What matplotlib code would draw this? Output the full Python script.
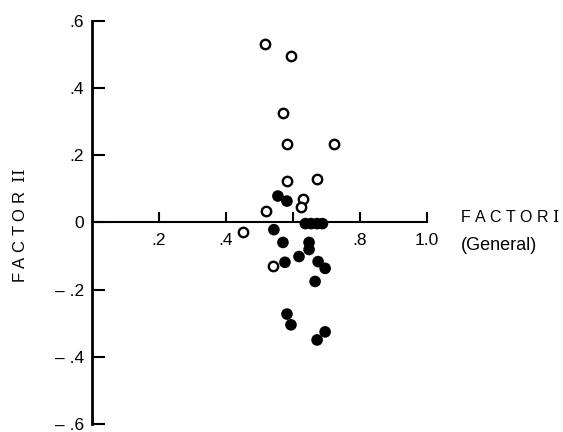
import matplotlib
matplotlib.use('Agg')
import matplotlib.pyplot as plt

plt.rcParams['font.family'] = ['Liberation Sans', 'DejaVu Sans']
plt.rcParams['mathtext.fontset'] = 'dejavuserif'

# open circles
open_x = [0.516, 0.594, 0.570, 0.582, 0.722, 0.582, 0.672, 0.630, 0.624, 0.519, 0.451, 0.540]
open_y = [0.530, 0.494, 0.326, 0.232, 0.232, 0.122, 0.128, 0.068, 0.046, 0.034, -0.028, -0.131]

# filled circles
filled_x = [0.555, 0.582, 0.637, 0.654, 0.672, 0.688, 0.543, 0.570, 0.648, 0.648,
            0.618, 0.576, 0.675, 0.696, 0.666, 0.582, 0.594, 0.672, 0.696]
filled_y = [0.078, 0.063, -0.004, -0.004, -0.004, -0.004, -0.022, -0.060, -0.060, -0.081,
            -0.102, -0.119, -0.117, -0.137, -0.176, -0.273, -0.305, -0.350, -0.326]

x_ticks = [0.2, 0.4, 0.6, 0.8, 1.0]
x_labels = ['.2', '.4', '', '.8', '1.0']
y_ticks = [-0.6, -0.4, -0.2, 0, 0.2, 0.4, 0.6]
y_labels = ['\u2013 .6', '\u2013 .4', '\u2013 .2', '0', '.2', '.4', '.6']

fig = plt.figure(figsize=(5.63, 4.32), dpi=100)
ax = fig.add_axes([0.1634, 0.0185, 0.595, 0.934])

ax.scatter(filled_x, filled_y, s=70, c='black', edgecolors='none', zorder=3, clip_on=False)
ax.scatter(open_x, open_y, s=46, facecolors='white', edgecolors='black', linewidths=1.7,
           zorder=4, clip_on=False)

ax.set_xlim(0, 1.0)
ax.set_ylim(-0.6, 0.6)

ax.spines['top'].set_visible(False)
ax.spines['right'].set_visible(False)
ax.spines['bottom'].set_position(('data', 0))
ax.spines['bottom'].set_linewidth(1.5)
ax.spines['left'].set_linewidth(2)

ax.set_xticks(x_ticks)
ax.set_xticklabels(x_labels)
ax.set_yticks(y_ticks)
ax.set_yticklabels(y_labels)
ax.tick_params(axis='x', direction='in', length=7, width=1.5, labelsize=12.5, pad=8)
ax.tick_params(axis='y', direction='in', length=9.5, width=1.5, labelsize=12.5, pad=6)

ax.text(1.10, 0.016, 'F A C T O R $\\mathrm{I}$', fontsize=11.5, ha='left', va='center',
        clip_on=False)
ax.text(1.10, -0.07, '(General)', fontsize=13, ha='left', va='center', clip_on=False)
fig.text(20 / 563, 1 - 226 / 432, 'F A C T O R  $\\mathrm{II}$', fontsize=12, rotation=90,
         ha='center', va='center')

fig.savefig('out.png', dpi=100)
